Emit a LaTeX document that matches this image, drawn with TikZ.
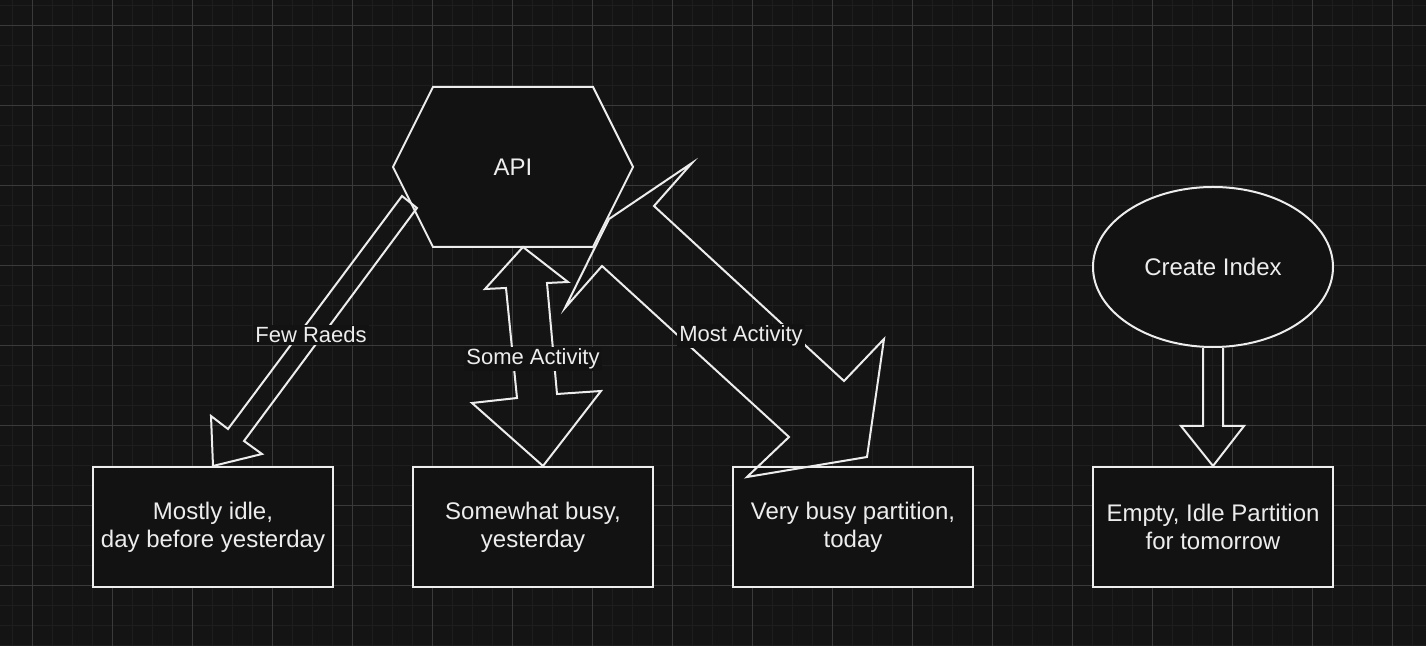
\documentclass[tikz,border=0pt]{standalone}
\usepackage{fontspec}
\setmainfont{Liberation Sans}
\usetikzlibrary{shapes.geometric,calc}
\definecolor{bgcol}{HTML}{141414}
\definecolor{fillcol}{HTML}{121212}
\definecolor{minorcol}{HTML}{1E1E1E}
\definecolor{majorcol}{HTML}{3A3A3A}
\definecolor{inkcol}{HTML}{EDEDED}

\begin{document}
\begin{tikzpicture}[x=0.5pt,y=-0.5pt,
    box/.style={draw=inkcol, fill=fillcol, line width=1pt, rectangle, minimum width=120pt, minimum height=60pt, inner sep=0pt, align=center, text=inkcol, font=\fontsize{12}{14.2}\selectfont},
    blockarrow/.style={draw=inkcol, line width=1pt, line join=miter},
    lbl/.style={fill=fillcol, text=inkcol, inner sep=1pt, font=\fontsize{11}{13}\selectfont}]

    % 背景网格
    \fill[bgcol] (0,0) rectangle (1426,646);
    \useasboundingbox (0,0) rectangle (1426,646);
    \foreach \gx in {12,32,...,1426} \draw[minorcol, line width=0.5pt] (\gx,0) -- (\gx,646);
    \foreach \gy in {6,26,...,646} \draw[minorcol, line width=0.5pt] (0,\gy) -- (1426,\gy);
    \foreach \gx in {32,112,...,1426} \draw[majorcol, line width=0.5pt] (\gx,0) -- (\gx,646);
    \foreach \gy in {26,106,...,646} \draw[majorcol, line width=0.5pt] (0,\gy) -- (1426,\gy);

    % API
    \draw[draw=inkcol, fill=fillcol, line width=1pt] (393,167) -- (433,87) -- (593,87) -- (633,167) -- (593,247) -- (433,247) -- cycle;
    \node[text=inkcol, font=\fontsize{12}{14.2}\selectfont] (api) at (513,167) {API};

    % 分区
    \node[box] (old) at (213,527) {Mostly idle,\\day before yesterday};
    \node[box] (yday) at (533,527) {Somewhat busy,\\yesterday};
    \node[box] (today) at (853,527) {Very busy partition,\\today};
    \node[box] (tmrw) at (1213,527) {Empty, Idle Partition\\for tomorrow};

    % 建索引
    \node[ellipse, draw=inkcol, fill=fillcol, line width=1pt, minimum width=120pt, minimum height=80pt, inner sep=0pt, text=inkcol, font=\fontsize{12}{14.2}\selectfont] (idx) at (1213,267) {Create Index};
    \draw[blockarrow] ($(idx.south)+(-10,0)$) -- ($(tmrw.north)+(-10,-40)$) -- ($(tmrw.north)+(-32,-40)$) -- (tmrw.north)
        -- ($(tmrw.north)+(31,-40)$) -- ($(tmrw.north)+(10,-40)$) -- ($(idx.south)+(10,0)$);

    % 读写箭头
    \draw[blockarrow] (402,196) -- (417,208) -- (244,441) -- (262,454) -- (213,466) -- (211,416) -- (228,429) -- cycle;
    \draw[blockarrow] (523,247) -- (568,282) -- (547,283) -- (557,394) -- (601,391) -- (543,466)
        -- (472,403) -- (517,398) -- (506,288) -- (485,289) -- cycle;
    \draw[blockarrow] (565,308) -- (609,219) -- (692,163) -- (654,206) -- (844,381) -- (884,339)
        -- (867,457) -- (747,477) -- (789,437) -- (602,266) -- cycle;

    % 标签
    \node[lbl] (few) at (311,335) {Few Raeds};
    \node[lbl] (some) at (533,359) {Some Activity};
    \node[lbl] (most) at (741,336) {Most Activity};
\end{tikzpicture}
\end{document}
